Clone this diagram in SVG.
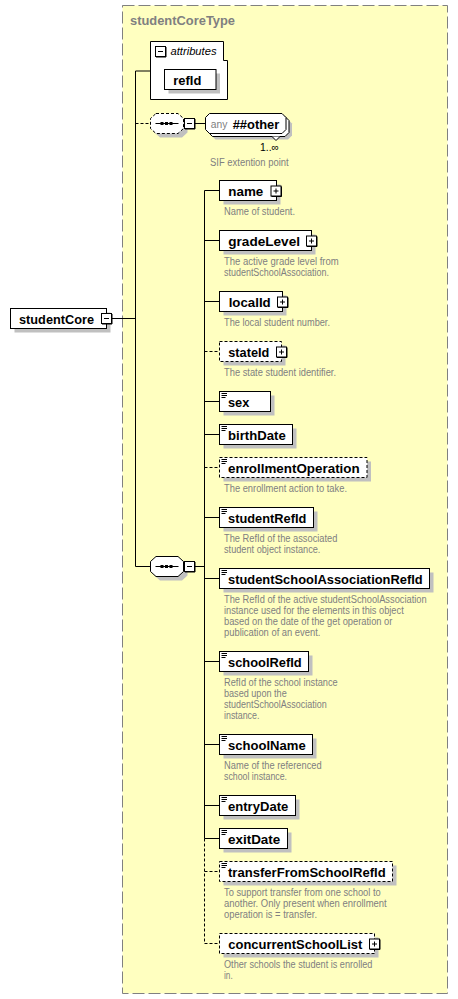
<svg xmlns="http://www.w3.org/2000/svg" xmlns:xlink="http://www.w3.org/1999/xlink" width="458" height="999" viewBox="0 0 458 999">
<style>
.bg{fill:#fff;}
.type{fill:#FFFFC0;stroke:#808080;stroke-width:1;stroke-dasharray:12 4;}
.box{fill:#fff;stroke:#000;stroke-width:1;}
.dbox{fill:#fff;stroke:#000;stroke-width:1;stroke-dasharray:3 2;}
.sh{fill:#C0C0C0;stroke:none;}
.ln{fill:none;stroke:#000;stroke-width:1;}
.dln{fill:none;stroke:#000;stroke-width:1;stroke-dasharray:3 2;}
.lbl{font-family:"Liberation Sans",Arial,sans-serif;font-size:13.5px;font-weight:bold;fill:#000;}
.ttl{font-family:"Liberation Sans",Arial,sans-serif;font-size:13px;font-weight:bold;fill:#808080;}
.desc{font-family:"Liberation Sans",Arial,sans-serif;font-size:10px;fill:#808080;}
.sm{font-family:"Liberation Sans",Arial,sans-serif;font-size:11px;fill:#000;}
.any{font-family:"Liberation Sans",Arial,sans-serif;font-size:11px;fill:#808080;}
.it{font-family:"Liberation Sans",Arial,sans-serif;font-size:11px;font-style:italic;fill:#000;}
</style>
<defs>
<g id="plus"><rect x="0.5" y="0.5" width="10" height="10" fill="#fff" stroke="#000"/><path d="M11,1V11H1" fill="none" stroke="#000"/><path d="M3,5.5H8M5.5,3V8" stroke="#000"/></g>
<g id="minus"><rect x="0.5" y="0.5" width="10" height="10" fill="#fff" stroke="#000"/><path d="M11,1V11H1" fill="none" stroke="#000"/><path d="M3,5.5H8" stroke="#000"/></g>
<g id="st"><path d="M1.5,2.5H7M1.5,4.5H7M1.5,6.5H5.5" stroke="#000" stroke-width="1"/></g>
<path id="seqshape" d="M5.5,0 H27.5 L33,5 V15 L27.5,20 H5.5 L0,15 V5 Z"/>
<g id="seqdots"><path d="M5,10H28" stroke="#000"/><rect x="10" y="8.5" width="3" height="3" fill="#000"/><rect x="14.5" y="8.5" width="3" height="3" fill="#000"/><rect x="19" y="8.5" width="3" height="3" fill="#000"/></g>
</defs>
<rect class="bg" x="0" y="0" width="458" height="999"/>
<g id="studentCoreType">
<rect class="type" x="122.5" y="5.5" width="325" height="988"/>
<text class="ttl" x="130" y="25" textLength="105" lengthAdjust="spacingAndGlyphs">studentCoreType</text>
</g>
<g id="connectors">
<path class="ln" d="M112,318.5H135.5M135.5,71V566.5M135.5,71H150.5M135.5,566.5H150.5"/>
<path class="dln" d="M135.5,123.5H150.5"/>
<path class="ln" d="M195,123.5H205.5"/>
<path class="ln" d="M195,566.5H204.5M204.5,190.5V838.5"/>
<path class="dln" d="M204.5,838.5V943.5"/>
<path class="ln" d="M204.5,190.5H219.5M204.5,240.5H219.5M204.5,301.5H219.5M204.5,401.5H219.5M204.5,434.5H219.5M204.5,517.5H219.5M204.5,578.5H219.5M204.5,661.5H219.5M204.5,744.5H219.5M204.5,805.5H219.5M204.5,838.5H219.5"/>
<path class="dln" d="M204.5,351.5H219.5M204.5,467.5H219.5M204.5,871.5H219.5M204.5,943.5H219.5"/>
</g>
<g id="studentCore">
<rect class="sh" x="14.5" y="312.5" width="96" height="20"/>
<rect class="box" x="10.5" y="308.5" width="96" height="20"/>
<text class="lbl" x="19" y="323.5" textLength="75" lengthAdjust="spacingAndGlyphs">studentCore</text>
<use xlink:href="#minus" x="101" y="313"/>
</g>
<g id="attributes">
<path class="box" d="M150.5,41.5H223.5V60.5H227.5V99.5H150.5Z"/>
<use xlink:href="#minus" x="155" y="46"/>
<text class="it" x="170.5" y="55" textLength="46" lengthAdjust="spacingAndGlyphs">attributes</text>
</g>
<g id="refId">
<rect class="sh" x="168.5" y="73.5" width="51.5" height="20"/>
<rect class="box" x="164.5" y="69.5" width="51.5" height="20"/>
<text class="lbl" x="173.3" y="84.5" textLength="28" lengthAdjust="spacingAndGlyphs">refId</text>
</g>
<g id="sequence-any">
<use xlink:href="#seqshape" x="154.5" y="117.5" class="sh"/>
<use xlink:href="#seqshape" x="150.5" y="113.5" fill="#fff" stroke="#000" stroke-dasharray="3 2"/>
<use xlink:href="#seqdots" x="150.5" y="113.5"/>
<use xlink:href="#minus" x="184" y="118"/>
</g>
<g id="any-other">
<path class="sh" d="M215.5,119.5H288L292,123.5V135.5L288,139.5H215.5L211.5,135.5V123.5Z"/>
<path class="box" d="M212.5,116.5H285L289,120.5V132.5L285,136.5H212.5L208.5,132.5V120.5Z"/>
<path class="box" d="M209.5,113.5H282L286,117.5V129.5L282,133.5H209.5L205.5,129.5V117.5Z"/>
<path class="box" d="M272,136.5L276,140.5L280,136.5"/>
<text class="any" x="210.7" y="128" textLength="16.6" lengthAdjust="spacingAndGlyphs">any</text>
<text class="lbl" x="232.7" y="128.5" textLength="46.6" lengthAdjust="spacingAndGlyphs">##other</text>
<text class="sm" x="260" y="151" textLength="19" lengthAdjust="spacingAndGlyphs">1..∞</text>
<text class="desc" x="210" y="166" textLength="78.7" lengthAdjust="spacingAndGlyphs">SIF extention point</text>
</g>
<g id="sequence-main">
<use xlink:href="#seqshape" x="154.5" y="560.5" class="sh"/>
<use xlink:href="#seqshape" x="150.5" y="556.5" fill="#fff" stroke="#000"/>
<use xlink:href="#seqdots" x="150.5" y="556.5"/>
<use xlink:href="#minus" x="184" y="561"/>
</g>
<g id="name">
<rect class="sh" x="223.5" y="184.5" width="57" height="20"/>
<rect class="box" x="219.5" y="180.5" width="57" height="20"/>
<text class="lbl" x="228.3" y="195.5" textLength="35" lengthAdjust="spacingAndGlyphs">name</text>
<use xlink:href="#plus" x="270.5" y="185.5"/>
<text class="desc" x="224" y="215" textLength="71" lengthAdjust="spacingAndGlyphs">Name of student.</text>
</g>
<g id="gradeLevel">
<rect class="sh" x="223.5" y="234.5" width="92" height="20"/>
<rect class="box" x="219.5" y="230.5" width="92" height="20"/>
<text class="lbl" x="228.3" y="245.5" textLength="71.7" lengthAdjust="spacingAndGlyphs">gradeLevel</text>
<use xlink:href="#plus" x="306" y="235.5"/>
<text class="desc" x="224" y="265" textLength="114.7" lengthAdjust="spacingAndGlyphs">The active grade level from</text>
<text class="desc" x="224" y="276" textLength="105" lengthAdjust="spacingAndGlyphs">studentSchoolAssociation.</text>
</g>
<g id="localId">
<rect class="sh" x="223.5" y="295.5" width="63" height="20"/>
<rect class="box" x="219.5" y="291.5" width="63" height="20"/>
<text class="lbl" x="228.7" y="306.5" textLength="42" lengthAdjust="spacingAndGlyphs">localId</text>
<use xlink:href="#plus" x="277" y="296.5"/>
<text class="desc" x="224" y="326" textLength="106" lengthAdjust="spacingAndGlyphs">The local student number.</text>
</g>
<g id="stateId">
<rect class="sh" x="223.5" y="345.5" width="62" height="20"/>
<rect class="dbox" x="219.5" y="341.5" width="62" height="20"/>
<text class="lbl" x="228.3" y="356.5" textLength="41" lengthAdjust="spacingAndGlyphs">stateId</text>
<use xlink:href="#plus" x="276" y="346.5"/>
<text class="desc" x="224" y="376" textLength="112" lengthAdjust="spacingAndGlyphs">The state student identifier.</text>
</g>
<g id="sex">
<rect class="sh" x="223.5" y="395.5" width="51" height="20"/>
<rect class="box" x="219.5" y="391.5" width="51" height="20"/>
<use xlink:href="#st" x="220" y="391"/>
<text class="lbl" x="228" y="406.5" textLength="21.3" lengthAdjust="spacingAndGlyphs">sex</text>
</g>
<g id="birthDate">
<rect class="sh" x="223.5" y="428.5" width="73" height="20"/>
<rect class="box" x="219.5" y="424.5" width="73" height="20"/>
<use xlink:href="#st" x="220" y="424"/>
<text class="lbl" x="228" y="439.5" textLength="57.7" lengthAdjust="spacingAndGlyphs">birthDate</text>
</g>
<g id="enrollmentOperation">
<rect class="sh" x="223.5" y="461.5" width="147.5" height="20"/>
<rect class="dbox" x="219.5" y="457.5" width="147.5" height="20"/>
<use xlink:href="#st" x="220" y="457"/>
<text class="lbl" x="228" y="472.5" textLength="131.7" lengthAdjust="spacingAndGlyphs">enrollmentOperation</text>
<text class="desc" x="224" y="492" textLength="123" lengthAdjust="spacingAndGlyphs">The enrollment action to take.</text>
</g>
<g id="studentRefId">
<rect class="sh" x="223.5" y="511.5" width="94" height="20"/>
<rect class="box" x="219.5" y="507.5" width="94" height="20"/>
<use xlink:href="#st" x="220" y="507"/>
<text class="lbl" x="228" y="522.5" textLength="78.3" lengthAdjust="spacingAndGlyphs">studentRefId</text>
<text class="desc" x="224" y="542" textLength="113.4" lengthAdjust="spacingAndGlyphs">The RefId of the associated</text>
<text class="desc" x="224" y="553" textLength="96.4" lengthAdjust="spacingAndGlyphs">student object instance.</text>
</g>
<g id="studentSchoolAssociationRefId">
<rect class="sh" x="223.5" y="572.5" width="210" height="20"/>
<rect class="box" x="219.5" y="568.5" width="210" height="20"/>
<use xlink:href="#st" x="220" y="568"/>
<text class="lbl" x="228" y="583.5" textLength="194.7" lengthAdjust="spacingAndGlyphs">studentSchoolAssociationRefId</text>
<text class="desc" x="224" y="603" textLength="202.7" lengthAdjust="spacingAndGlyphs">The RefId of the active studentSchoolAssociation</text>
<text class="desc" x="224" y="614" textLength="179.7" lengthAdjust="spacingAndGlyphs">instance used for the elements in this object</text>
<text class="desc" x="224" y="625" textLength="168.4" lengthAdjust="spacingAndGlyphs">based on the date of the get operation or</text>
<text class="desc" x="224" y="636" textLength="96.4" lengthAdjust="spacingAndGlyphs">publication of an event.</text>
</g>
<g id="schoolRefId">
<rect class="sh" x="223.5" y="655.5" width="89" height="20"/>
<rect class="box" x="219.5" y="651.5" width="89" height="20"/>
<use xlink:href="#st" x="220" y="651"/>
<text class="lbl" x="228" y="666.5" textLength="73.7" lengthAdjust="spacingAndGlyphs">schoolRefId</text>
<text class="desc" x="224" y="686" textLength="113.7" lengthAdjust="spacingAndGlyphs">RefId of the school instance</text>
<text class="desc" x="224" y="697" textLength="62.7" lengthAdjust="spacingAndGlyphs">based upon the</text>
<text class="desc" x="224" y="708" textLength="102.7" lengthAdjust="spacingAndGlyphs">studentSchoolAssociation</text>
<text class="desc" x="224" y="719" textLength="35.4" lengthAdjust="spacingAndGlyphs">instance.</text>
</g>
<g id="schoolName">
<rect class="sh" x="223.5" y="738.5" width="93" height="20"/>
<rect class="box" x="219.5" y="734.5" width="93" height="20"/>
<use xlink:href="#st" x="220" y="734"/>
<text class="lbl" x="228" y="749.5" textLength="77.7" lengthAdjust="spacingAndGlyphs">schoolName</text>
<text class="desc" x="224" y="769" textLength="97.7" lengthAdjust="spacingAndGlyphs">Name of the referenced</text>
<text class="desc" x="224" y="780" textLength="63" lengthAdjust="spacingAndGlyphs">school instance.</text>
</g>
<g id="entryDate">
<rect class="sh" x="223.5" y="799.5" width="76" height="20"/>
<rect class="box" x="219.5" y="795.5" width="76" height="20"/>
<use xlink:href="#st" x="220" y="795"/>
<text class="lbl" x="228" y="810.5" textLength="60.3" lengthAdjust="spacingAndGlyphs">entryDate</text>
</g>
<g id="exitDate">
<rect class="sh" x="223.5" y="832.5" width="68" height="20"/>
<rect class="box" x="219.5" y="828.5" width="68" height="20"/>
<use xlink:href="#st" x="220" y="828"/>
<text class="lbl" x="228" y="843.5" textLength="52.3" lengthAdjust="spacingAndGlyphs">exitDate</text>
</g>
<g id="transferFromSchoolRefId">
<rect class="sh" x="223.5" y="865.5" width="173" height="20"/>
<rect class="dbox" x="219.5" y="861.5" width="173" height="20"/>
<use xlink:href="#st" x="220" y="861"/>
<text class="lbl" x="228" y="876.5" textLength="157.7" lengthAdjust="spacingAndGlyphs">transferFromSchoolRefId</text>
<text class="desc" x="224" y="896" textLength="156.7" lengthAdjust="spacingAndGlyphs">To support transfer from one school to</text>
<text class="desc" x="224" y="907" textLength="162.7" lengthAdjust="spacingAndGlyphs">another. Only present when enrollment</text>
<text class="desc" x="224" y="918" textLength="93" lengthAdjust="spacingAndGlyphs">operation is = transfer.</text>
</g>
<g id="concurrentSchoolList">
<rect class="sh" x="223.5" y="937.5" width="155" height="20"/>
<rect class="dbox" x="219.5" y="933.5" width="155" height="20"/>
<text class="lbl" x="228.3" y="948.5" textLength="134" lengthAdjust="spacingAndGlyphs">concurrentSchoolList</text>
<use xlink:href="#plus" x="369" y="938.5"/>
<text class="desc" x="224" y="968" textLength="148.4" lengthAdjust="spacingAndGlyphs">Other schools the student is enrolled</text>
<text class="desc" x="224" y="979" textLength="8.7" lengthAdjust="spacingAndGlyphs">in.</text>
</g>
</svg>
